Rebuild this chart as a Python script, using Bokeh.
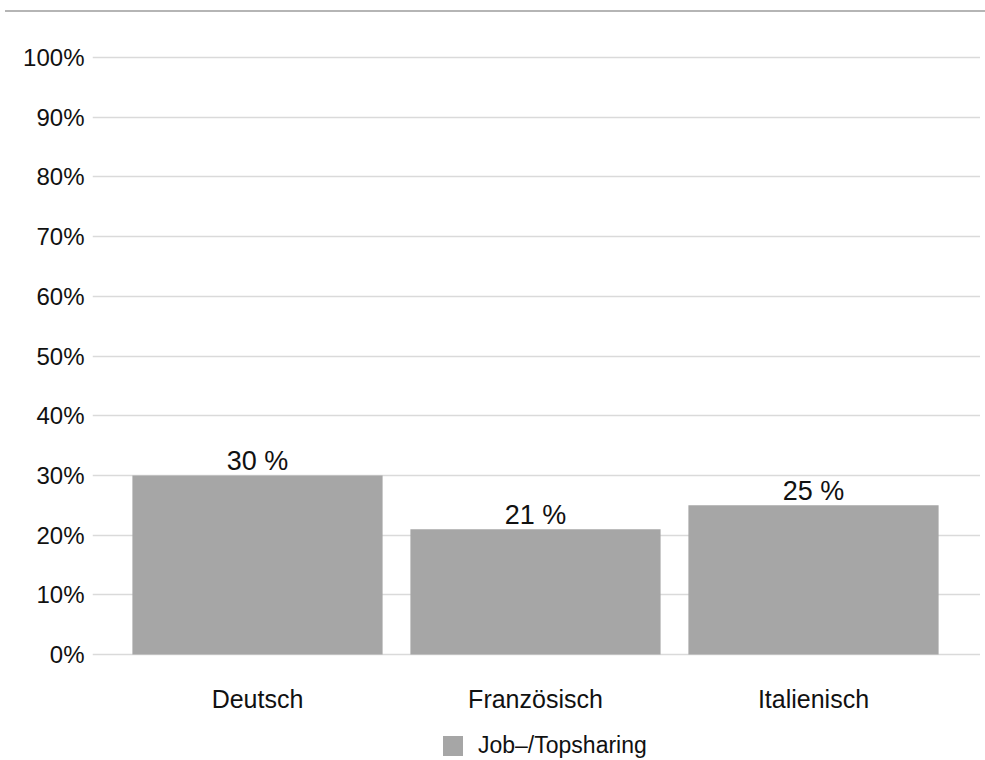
from bokeh.plotting import figure
from bokeh.models import (ColumnDataSource, Range1d, FixedTicker, Legend, LegendItem, Div)
from bokeh.layouts import column
from bokeh.core.properties import value
from bokeh.embed import file_html
from bokeh.resources import INLINE

categories = ["Deutsch", "Französisch", "Italienisch"]
shares = [0.30, 0.21, 0.25]
bar_labels = ["30 %", "21 %", "25 %"]
series_name = "Job–/Topsharing"
y_ticks = [0.0, 0.1, 0.2, 0.3, 0.4, 0.5, 0.6, 0.7, 0.8, 0.9, 1.0]
y_tick_labels = ["0%", "10%", "20%", "30%", "40%", "50%", "60%", "70%", "80%", "90%", "100%"]

FONT = "Liberation Sans"
BAR = "#a6a6a6"

xs = list(range(len(categories)))
src = ColumnDataSource(dict(x=xs, top=shares, label=bar_labels))

p = figure(width=980, height=743, output_backend="svg", toolbar_location=None,
           x_range=Range1d(-0.5935, 2.6007), y_range=Range1d(-0.17755, 1.01675),
           min_border_left=92, min_border_right=0, min_border_top=30, min_border_bottom=0)
p.outline_line_color = None
p.background_fill_color = "white"
p.border_fill_color = "white"

bars = p.vbar(x="x", top="top", width=0.9, source=src, fill_color=BAR, line_color=None)
p.text(x="x", y="top", text="label", source=src, text_align="center",
       text_baseline="alphabetic", y_offset=-14, text_font=value(FONT),
       text_font_size="27px", text_color="#111111")

# axes
p.yaxis.ticker = FixedTicker(ticks=y_ticks)
p.yaxis.major_label_overrides = {t: l for t, l in zip(y_ticks, y_tick_labels)}
p.yaxis.axis_line_color = None
p.yaxis.major_tick_line_color = None
p.yaxis.minor_tick_line_color = None
p.yaxis.major_tick_out = 0
p.yaxis.major_label_standoff = 8
p.yaxis.major_label_text_font = FONT
p.yaxis.major_label_text_font_size = "24px"
p.yaxis.major_label_text_color = "#111111"

p.xaxis.fixed_location = 0
p.xaxis.ticker = FixedTicker(ticks=xs)
p.xaxis.major_label_overrides = {i: c for i, c in zip(xs, categories)}
p.xaxis.axis_line_color = None
p.xaxis.major_tick_line_color = None
p.xaxis.minor_tick_line_color = None
p.xaxis.major_tick_out = 0
p.xaxis.major_label_standoff = 30
p.xaxis.major_label_text_font = FONT
p.xaxis.major_label_text_font_size = "25px"
p.xaxis.major_label_text_color = "#111111"

p.xgrid.grid_line_color = None
p.ygrid.ticker = FixedTicker(ticks=y_ticks)
p.ygrid.grid_line_color = "#dadada"
p.ygrid.grid_line_width = 1.5

legend = Legend(items=[LegendItem(label=series_name, renderers=[bars])],
                location=(348, 1), orientation="horizontal",
                glyph_width=25, glyph_height=25, label_standoff=13,
                label_text_font=FONT, label_text_font_size="23px",
                label_text_color="#111111", padding=0, margin=0,
                border_line_color=None, background_fill_alpha=0)
p.add_layout(legend, "center")

topline = Div(text="", width=980, height=7,
              styles={"border-bottom": "2px solid #b5b5b5"})

layout = column(topline, p, spacing=0)

open("out.html", "w").write(file_html(layout, INLINE))
